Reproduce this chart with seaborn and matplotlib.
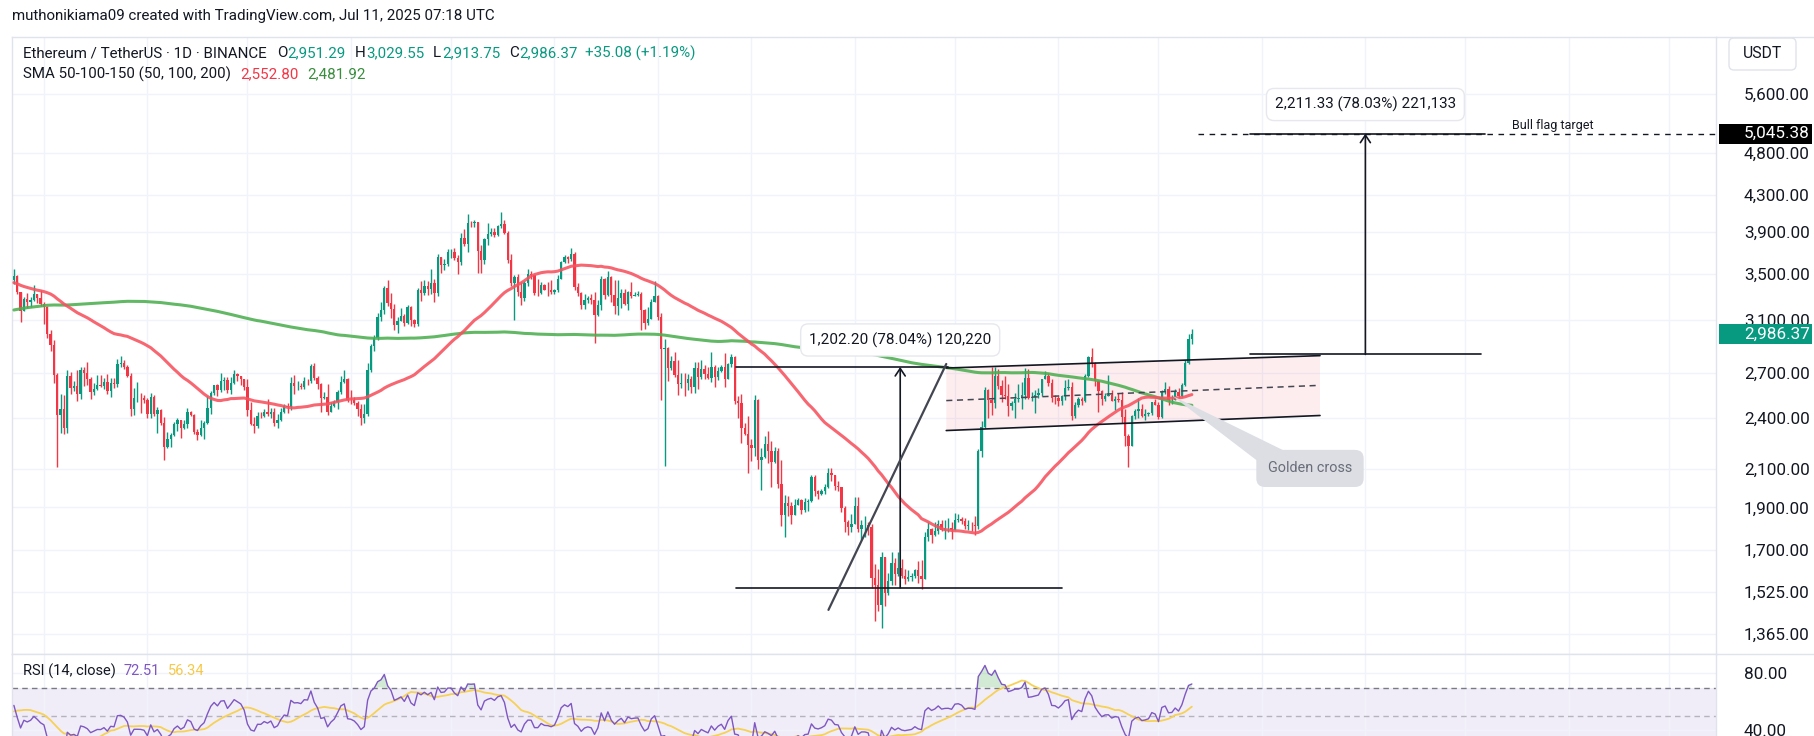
import numpy as np
import pandas as pd
import matplotlib
matplotlib.use("Agg")
import matplotlib.pyplot as plt
import matplotlib.transforms as mtransforms
from matplotlib.patches import Polygon, FancyBboxPatch, Rectangle
from matplotlib.lines import Line2D
from matplotlib.ticker import NullLocator
import seaborn as sns

sns.set_theme(style="white")
plt.rcParams["font.family"] = ["Roboto", "DejaVu Sans"]

# ---------------------------------------------------------------- data
HIST_START = "2024-01-01"   # closes used only to warm up SMA / RSI
START = "2024-07-23"        # first candle shown

hist_close = [
    2352, 2355, 2210, 2268, 2269, 2240, 2222, 2331, 2345, 2585, 2618, 2524, 2576, 2472, 2511, 2587,
    2530, 2468, 2490, 2470, 2455, 2315, 2242, 2236, 2218, 2268, 2267, 2257, 2316, 2343, 2283,
    2304, 2309, 2296, 2290, 2299, 2373, 2424, 2420, 2487, 2501, 2507, 2659, 2640, 2777, 2824, 2803,
    2786, 2880, 2945, 3015, 2969, 2971, 2922, 2993, 3113, 3178, 3242, 3384, 3340,
    3433, 3421, 3488, 3628, 3561, 3818, 3868, 3885, 3915, 3878, 4066, 3980, 4004, 3880, 3734, 3522,
    3644, 3520, 3163, 3514, 3493, 3336, 3453, 3456, 3590, 3588, 3501, 3561, 3508, 3509, 3646,
    3505, 3280, 3310, 3330, 3318, 3393, 3451, 3698, 3505, 3545, 3504, 3242, 3007, 3095, 3099, 3080,
    2985, 3063, 3057, 3158, 3147, 3200, 3218, 3140, 3155, 3130, 3256, 3263, 3215, 3014,
    2970, 2988, 3103, 3117, 3139, 3064, 3006, 2974, 3036, 2910, 2912, 2930, 2951, 2881, 3035, 2945,
    3095, 3121, 3071, 3662, 3790, 3737, 3780, 3727, 3749, 3826, 3892, 3840, 3766, 3748, 3763,
    3814, 3780, 3767, 3811, 3864, 3811, 3680, 3682, 3706, 3666, 3498, 3560, 3468, 3481, 3567, 3621,
    3508, 3481, 3561, 3512, 3518, 3494, 3418, 3354, 3393, 3372, 3449, 3376, 3378, 3433,
    3439, 3419, 3296, 3058, 2980, 3066, 2930, 3016, 3064, 3101, 3101, 3135, 3178, 3244, 3484, 3442,
    3388, 3425, 3505, 3517, 3535, 3440,
]

close = [
    # Jul 2024 (23-31)
    3481, 3337, 3175, 3275, 3249, 3270, 3320, 3280, 3232,
    # Aug
    3204, 2988, 2903, 2687, 2420, 2460, 2341, 2682, 2598, 2610, 2555, 2724, 2703, 2661, 2569, 2592,
    2614, 2612, 2636, 2573, 2631, 2623, 2762, 2768, 2745, 2680, 2458, 2528, 2528, 2526, 2513,
    # Sep
    2425, 2538, 2424, 2450, 2368, 2225, 2272, 2297, 2360, 2389, 2340, 2361, 2440, 2418, 2315, 2294,
    2340, 2370, 2465, 2561, 2615, 2581, 2647, 2653, 2580, 2633, 2696, 2677, 2658, 2603,
    # Oct
    2448, 2366, 2350, 2415, 2414, 2440, 2423, 2441, 2370, 2385, 2437, 2476, 2470, 2629, 2608, 2611,
    2604, 2645, 2643, 2747, 2668, 2623, 2527, 2535, 2437, 2478, 2505, 2566, 2639, 2661, 2519,
    # Nov
    2513, 2495, 2457, 2400, 2423, 2722, 2896, 2962, 3127, 3185, 3370, 3244, 3187, 3058, 3092, 3133,
    3075, 3208, 3104, 3068, 3355, 3327, 3393, 3361, 3416, 3324, 3657, 3580, 3593, 3705,
    # Dec
    3706, 3645, 3611, 3838, 3785, 4000, 3997, 4006, 3713, 3628, 3834, 3881, 3907, 3875, 3960, 3987,
    3894, 3627, 3419, 3473, 3337, 3286, 3419, 3492, 3490, 3331, 3330, 3395, 3357, 3353, 3333,
    # Jan 2025
    3354, 3451, 3605, 3657, 3634, 3687, 3380, 3327, 3221, 3267, 3283, 3266, 3139, 3221, 3451, 3307,
    3472, 3308, 3219, 3281, 3325, 3237, 3337, 3305, 3314, 3317, 3186, 3078, 3109, 3249, 3299,
    # Feb
    3124, 2872, 2880, 2733, 2786, 2687, 2622, 2632, 2627, 2660, 2604, 2737, 2674, 2725, 2692, 2663,
    2742, 2671, 2716, 2739, 2661, 2763, 2818, 2510, 2495, 2337, 2305, 2237,
    # Mar
    2217, 2518, 2151, 2170, 2241, 2200, 2139, 2204, 2021, 1865, 1921, 1907, 1863, 1911, 1937, 1887,
    1927, 1932, 2056, 1983, 1968, 1982, 2004, 2079, 2066, 2009, 2003, 1896, 1828, 1805, 1822,
    # Apr
    1905, 1795, 1817, 1817, 1805, 1580, 1553, 1472, 1669, 1521, 1567, 1645, 1598, 1622, 1588, 1577,
    1583, 1589, 1613, 1587, 1578, 1758, 1796, 1769, 1786, 1819, 1792, 1799, 1800, 1793,
    # May
    1838, 1842, 1833, 1809, 1816, 1815, 1810, 2204, 2345, 2581, 2514, 2497, 2680, 2609, 2546, 2540,
    2474, 2495, 2524, 2526, 2551, 2664, 2527, 2535, 2550, 2563, 2659, 2682, 2632, 2531, 2528,
    # Jun
    2507, 2542, 2594, 2606, 2416, 2481, 2524, 2509, 2680, 2815, 2770, 2643, 2579, 2522, 2545, 2547,
    2508, 2524, 2518, 2405, 2293, 2231, 2410, 2447, 2460, 2416, 2423, 2435, 2501, 2486,
    # Jul 2025 (1-11)
    2405, 2568, 2587, 2515, 2519, 2571, 2541, 2615, 2770, 2951.29, 2986.37,
]

high = [
    3541, 3488, 3340, 3289, 3330, 3290, 3400, 3322, 3350,
    3247, 3217, 3019, 2940, 2700, 2555, 2552, 2720, 2707, 2642, 2720, 2740, 2742, 2781, 2675, 2633,
    2689, 2688, 2665, 2694, 2664, 2665, 2800, 2820, 2792, 2760, 2702, 2594, 2640, 2560, 2550,
    2528, 2560, 2550, 2468, 2460, 2407, 2312, 2310, 2375, 2399, 2384, 2390, 2465, 2445, 2425, 2335,
    2390, 2380, 2545, 2573, 2619, 2625, 2702, 2670, 2672, 2670, 2722, 2702, 2680, 2657,
    2659, 2500, 2405, 2437, 2440, 2460, 2521, 2465, 2466, 2425, 2464, 2490, 2495, 2675, 2684, 2645,
    2630, 2675, 2660, 2765, 2769, 2680, 2630, 2570, 2620, 2500, 2514, 2580, 2682, 2722, 2665,
    2585, 2535, 2510, 2492, 2490, 2770, 2914, 2982, 3160, 3250, 3388, 3440, 3325, 3233, 3127, 3201,
    3151, 3225, 3220, 3110, 3370, 3430, 3440, 3429, 3540, 3455, 3680, 3655, 3635, 3730,
    3730, 3740, 3675, 3889, 3935, 4090, 4015, 4030, 4010, 3770, 3840, 3995, 3940, 3945, 3975, 4107,
    4030, 3910, 3680, 3490, 3495, 3420, 3430, 3540, 3520, 3490, 3450, 3420, 3410, 3425, 3440,
    3362, 3484, 3622, 3674, 3669, 3744, 3700, 3413, 3340, 3322, 3300, 3320, 3335, 3265, 3475, 3460,
    3524, 3480, 3445, 3440, 3359, 3360, 3347, 3425, 3340, 3347, 3340, 3195, 3210, 3275, 3437,
    3311, 3160, 2950, 2890, 2820, 2855, 2795, 2700, 2700, 2696, 2680, 2780, 2780, 2790, 2760, 2740,
    2850, 2760, 2740, 2760, 2845, 2768, 2835, 2820, 2540, 2553, 2367, 2410,
    2272, 2550, 2525, 2220, 2290, 2322, 2260, 2225, 2220, 2150, 1963, 1960, 1925, 1940, 1950, 1940,
    1950, 1945, 2070, 2070, 1990, 1995, 2020, 2105, 2105, 2035, 2036, 2005, 1905, 1840, 1870,
    1955, 1955, 1840, 1860, 1830, 1818, 1640, 1620, 1690, 1669, 1600, 1692, 1665, 1691, 1660, 1620,
    1613, 1600, 1620, 1650, 1658, 1780, 1830, 1800, 1830, 1840, 1840, 1840, 1850, 1830,
    1875, 1870, 1855, 1850, 1839, 1830, 1860, 2215, 2380, 2600, 2590, 2740, 2745, 2725, 2650, 2680,
    2620, 2510, 2560, 2620, 2640, 2734, 2731, 2568, 2580, 2597, 2660, 2714, 2700, 2656, 2548,
    2540, 2550, 2650, 2660, 2640, 2500, 2535, 2538, 2695, 2825, 2880, 2775, 2650, 2580, 2560, 2683,
    2580, 2540, 2560, 2571, 2455, 2300, 2420, 2457, 2530, 2490, 2458, 2440, 2505, 2525,
    2500, 2580, 2637, 2610, 2547, 2588, 2594, 2630, 2795, 2990, 3029.55,
]

low = [
    3410, 3320, 3087, 3171, 3200, 3210, 3260, 3240, 3220,
    3072, 2961, 2860, 2630, 2111, 2310, 2300, 2310, 2553, 2573, 2510, 2521, 2612, 2618, 2525, 2550,
    2582, 2600, 2588, 2557, 2537, 2595, 2603, 2741, 2730, 2670, 2410, 2420, 2500, 2430, 2493,
    2400, 2400, 2410, 2310, 2355, 2150, 2222, 2227, 2290, 2322, 2280, 2330, 2337, 2410, 2300, 2265,
    2290, 2270, 2365, 2425, 2550, 2540, 2572, 2580, 2560, 2555, 2620, 2645, 2617, 2580,
    2410, 2355, 2308, 2340, 2400, 2405, 2411, 2400, 2350, 2340, 2380, 2435, 2435, 2448, 2558, 2580,
    2590, 2590, 2615, 2629, 2652, 2590, 2440, 2520, 2421, 2438, 2470, 2457, 2554, 2630, 2500,
    2490, 2480, 2410, 2356, 2370, 2410, 2705, 2862, 2945, 3095, 3150, 3220, 3120, 3020, 3000, 3100,
    3050, 3065, 3050, 3045, 3050, 3257, 3310, 3310, 3320, 3250, 3300, 3510, 3530, 3570,
    3646, 3625, 3494, 3580, 3760, 3700, 3958, 3955, 3510, 3505, 3590, 3775, 3860, 3850, 3860, 3938,
    3880, 3600, 3385, 3100, 3300, 3225, 3255, 3390, 3450, 3310, 3300, 3318, 3350, 3305, 3320,
    3320, 3335, 3450, 3600, 3600, 3615, 3355, 3305, 3190, 3190, 3240, 3230, 2920, 3135, 3185, 3275,
    3300, 3247, 3150, 3140, 3202, 3227, 3180, 3282, 3300, 3305, 3020, 3030, 3060, 3110, 3261,
    3100, 2515, 2120, 2645, 2720, 2670, 2550, 2593, 2540, 2580, 2560, 2565, 2590, 2661, 2660, 2660,
    2640, 2600, 2650, 2705, 2600, 2658, 2745, 2490, 2400, 2250, 2295, 2080,
    2144, 2172, 2100, 1990, 2161, 2132, 2005, 2134, 2000, 1810, 1760, 1860, 1820, 1865, 1910, 1870,
    1880, 1885, 1925, 1960, 1940, 1965, 1970, 2000, 2036, 1990, 1986, 1880, 1782, 1768, 1780,
    1820, 1780, 1745, 1760, 1770, 1540, 1412, 1450, 1385, 1470, 1510, 1550, 1550, 1590, 1580, 1557,
    1568, 1570, 1582, 1560, 1537, 1585, 1740, 1730, 1765, 1775, 1785, 1750, 1780, 1750,
    1790, 1830, 1820, 1795, 1790, 1785, 1770, 1795, 2170, 2340, 2400, 2420, 2465, 2589, 2500, 2520,
    2414, 2450, 2400, 2500, 2460, 2520, 2520, 2510, 2435, 2527, 2540, 2658, 2610, 2500, 2490,
    2478, 2485, 2519, 2585, 2390, 2400, 2470, 2483, 2500, 2672, 2740, 2610, 2440, 2480, 2508, 2540,
    2508, 2450, 2505, 2370, 2230, 2111, 2235, 2395, 2401, 2407, 2390, 2416, 2421, 2483,
    2395, 2400, 2556, 2480, 2492, 2515, 2530, 2536, 2610, 2763, 2913.75,
]

price_ticks = [5600, 4800, 4300, 3900, 3500, 3100, 2700, 2400, 2100, 1900, 1700, 1525, 1365]
rsi_ticks = [80, 40]

# TradingView drawings (time index, price) anchors
measure_low, measure_high = 1540.5, 2742.7
flag_base, flag_target = 2834.05, 5045.38
last_price = 2986.37

# ---------------------------------------------------------------- derived series
n = len(close)
assert len(high) == n and len(low) == n, (n, len(high), len(low))
dates = pd.date_range(START, periods=n, freq="D")
x = np.arange(n)
c = np.array(close, float)
o = np.r_[hist_close[-1], c[:-1]]
h = np.maximum(np.array(high, float), np.maximum(o, c))
lo = np.minimum(np.array(low, float), np.minimum(o, c))

allc = pd.Series(list(hist_close) + list(close), dtype=float)
k = len(hist_close)
sma50 = allc.rolling(50).mean().to_numpy()[k:]
sma200 = allc.rolling(200).mean().to_numpy()[k:]
d = allc.diff()
up = d.clip(lower=0).ewm(alpha=1 / 14, adjust=False).mean()
dn = (-d.clip(upper=0)).ewm(alpha=1 / 14, adjust=False).mean()
rsi_all = 100 - 100 / (1 + up / dn)
rsi = rsi_all.to_numpy()[k:]
rsi_ma = rsi_all.rolling(14).mean().to_numpy()[k:]
df = pd.DataFrame({"x": x, "sma50": sma50, "sma200": sma200, "rsi": rsi, "rsi_ma": rsi_ma})

# ---------------------------------------------------------------- layout
W, H = 1814, 736
L, R, TOP, SEP = 12, 1716, 37, 654
PX0, PXSTEP = 13.9, 3.337
YREF_PX, YREF_P, YSCALE = 93.7, 5600.0, 382.8
p_top = YREF_P * np.exp((YREF_PX - TOP) / YSCALE)
p_bot = YREF_P * np.exp(-(SEP - YREF_PX) / YSCALE)
xlim = ((L - PX0) / PXSTEP, (R - PX0) / PXSTEP)

DARK = "#131722"
GREEN = "#089981"
RED = "#F23645"
GRID = "#f0f3fa"
BORDER = "#e0e3eb"
AXFS = 12.3

fig = plt.figure(figsize=(W / 100, H / 100), dpi=100, facecolor="white")
ax = fig.add_axes([L / W, 1 - SEP / H, (R - L) / W, (SEP - TOP) / H])
axr = fig.add_axes([L / W, 0, (R - L) / W, (H - SEP) / H])

months = pd.date_range("2024-08-01", "2025-12-01", freq="MS")
month_idx = (months - dates[0]).days.to_numpy()

for a in (ax, axr):
    a.set_facecolor("white")
    a.set_xlim(*xlim)
    a.set_xticks(month_idx)
    a.tick_params(axis="x", length=0, labelbottom=False)
    a.grid(True, axis="both", color=GRID, lw=1)
    for s in a.spines.values():
        s.set_color(BORDER)
        s.set_linewidth(1)
    a.yaxis.tick_right()
    a.tick_params(axis="y", length=0, pad=20, labelsize=AXFS, labelcolor=DARK)

ax.set_yscale("log")
ax.set_ylim(p_bot, p_top)
ax.set_yticks(price_ticks)
ax.set_yticklabels([f"{v:,.2f}" for v in price_ticks])
ax.yaxis.set_minor_locator(NullLocator())
axr.spines["bottom"].set_visible(False)

# candles
cols = np.where(c >= o, GREEN, RED)
ax.vlines(x, lo, h, colors=cols, lw=1.0, zorder=3)
ax.bar(x, np.abs(c - o), bottom=np.minimum(o, c), width=0.7, color=cols, lw=0, zorder=3)

# moving averages
sns.lineplot(data=df, x="x", y="sma200", ax=ax, color="#4CAF50", lw=2.2, alpha=0.88,
             estimator=None, legend=False, zorder=4)
sns.lineplot(data=df, x="x", y="sma50", ax=ax, color="#F7525F", lw=2.2, alpha=0.88,
             estimator=None, legend=False, zorder=4)
ax.set_xlabel("")
ax.set_ylabel("")

# --- flag channel
flag_ul, flag_ur = (279.4, 2735), (391.4, 2825)
flag_ll, flag_lr = (279.4, 2323), (391.4, 2416)
ax.add_patch(Polygon([flag_ul, flag_ur, flag_lr, flag_ll], closed=True, fc=RED, alpha=0.085,
                     ec="none", zorder=1))
ax.plot([flag_ul[0], flag_ur[0]], [flag_ul[1], flag_ur[1]], color=DARK, lw=1.2, zorder=5)
ax.plot([flag_ll[0], flag_lr[0]], [flag_ll[1], flag_lr[1]], color=DARK, lw=1.2, zorder=5)
ax.plot([279.4, 391.4], [2512, 2614], color="#434651", lw=1.1, dashes=(4, 3), zorder=5)

# --- flagpole measurement
ax.plot([216.4, 280.0], [measure_high] * 2, color=DARK, lw=1.2, zorder=5)
ax.plot([216.4, 314.0], [measure_low] * 2, color=DARK, lw=1.2, zorder=5)
ax.annotate("", xy=(265.6, measure_high), xytext=(265.6, measure_low),
            arrowprops=dict(arrowstyle="->,head_length=0.45,head_width=0.3", lw=1.2, color=DARK,
                            shrinkA=0, shrinkB=0), zorder=5)
ax.plot([244.1, 279.4], [1454, 2764], color="#434651", lw=1.6, zorder=5)
ax.text(265.6, 2943, "1,202.20 (78.04%) 120,220", ha="center", va="center", fontsize=11,
        color=DARK, zorder=8,
        bbox=dict(boxstyle="round,pad=0.55,rounding_size=0.5", fc="white", ec="#e6e8ee", lw=1))

# --- bull flag target
ax.plot([370.4, 439.6], [flag_base] * 2, color=DARK, lw=1.2, zorder=5)
ax.plot([354.8, xlim[1]], [flag_target] * 2, color=DARK, lw=1.0, dashes=(4, 4), zorder=4)
ax.plot([370.4, 440.8], [flag_target] * 2, color=DARK, lw=1.2, zorder=5)
ax.annotate("", xy=(405.0, flag_target), xytext=(405.0, flag_base),
            arrowprops=dict(arrowstyle="->,head_length=0.45,head_width=0.3", lw=1.2, color=DARK,
                            shrinkA=0, shrinkB=0), zorder=5)
ax.text(405.0, 5444, "2,211.33 (78.03%) 221,133", ha="center", va="center", fontsize=11,
        color=DARK, zorder=8,
        bbox=dict(boxstyle="round,pad=0.55,rounding_size=0.5", fc="white", ec="#e6e8ee", lw=1))
ax.text(448.9, 5160, "Bull flag target", ha="left", va="center", fontsize=9, color=DARK, zorder=8)

# --- golden cross callout
ax.add_patch(Polygon([(347.1, 2544), (381.6, 2195), (373.2, 2138)], closed=True,
                     fc="#dcdee4", ec="none", zorder=6))
ax.text(388.4, 2104, "Golden cross", ha="center", va="center", fontsize=10.4, color="#6a6d78",
        zorder=7, bbox=dict(boxstyle="round,pad=0.8,rounding_size=0.6", fc="#dcdee4", ec="none"))

# ---------------------------------------------------------------- RSI pane
axr.set_ylim(35.4, 93.9)
axr.axhspan(30, 70, color="#7E57C2", alpha=0.1, lw=0, zorder=0)
axr.axhline(70, color="#787b86", lw=1, dashes=(4, 3), zorder=1)
axr.axhline(50, color="#787b86", lw=1, alpha=0.5, dashes=(4, 3), zorder=1)
axr.fill_between(x, 70, rsi, where=rsi > 70, interpolate=True, color="#4CAF50", alpha=0.25,
                 lw=0, zorder=1)
sns.lineplot(data=df, x="x", y="rsi_ma", ax=axr, color="#F6D155", lw=1.3, estimator=None,
             legend=False, zorder=3)
sns.lineplot(data=df, x="x", y="rsi", ax=axr, color="#7E57C2", lw=1.0, estimator=None,
             legend=False, zorder=4)
axr.set_xlabel("")
axr.set_ylabel("")
axr.set_yticks(rsi_ticks)
axr.set_yticklabels([f"{v:.2f}" for v in rsi_ticks])

# ---------------------------------------------------------------- frame pieces
ident = mtransforms.IdentityTransform()
for (x0, y0, x1, y1) in [(R, TOP, W, TOP), (R, SEP, W, SEP)]:
    fig.add_artist(Line2D([x0, x1], [H - y0, H - y1], color=BORDER, lw=1, transform=ident))

fig.canvas.draw()
renderer = fig.canvas.get_renderer()


def price_box(val, label, fc):
    yd = ax.transData.transform((0, val))[1]
    fig.add_artist(Rectangle((1719, yd - 10), 93, 20, fc=fc, ec="none", transform=ident,
                             zorder=10))
    fig.text(1744 / W, yd / H, label, color="white", fontsize=AXFS, va="center", ha="left",
             zorder=11)


price_box(flag_target, "5,045.38", "#000000")
price_box(last_price, "2,986.37", GREEN)

fig.add_artist(FancyBboxPatch((1729, H - 70), 67, 32, boxstyle="round,pad=0,rounding_size=5",
                              fc="white", ec=BORDER, lw=1, transform=ident))
fig.text(1762.5 / W, 1 - 54 / H, "USDT", ha="center", va="center", fontsize=11.3, color=DARK)


def seg_text(x_px, y_px, parts, size):
    xx = x_px
    for s, col, gap in parts:
        t = fig.text(xx / W, 1 - y_px / H, s, color=col, fontsize=size, va="center", ha="left")
        bb = t.get_window_extent(renderer)
        xx = bb.x1 + gap


fig.text(12 / W, 1 - 16 / H, "muthonikiama09 created with TradingView.com, Jul 11, 2025 07:18 UTC",
         fontsize=10.9, color=DARK, va="center", ha="left")
seg_text(23, 53, [("Ethereum / TetherUS · 1D · BINANCE", DARK, 10), ("O", DARK, 0.5),
                  ("2,951.29", GREEN, 9), ("H", DARK, 0.5), ("3,029.55", GREEN, 9),
                  ("L", DARK, 0.5), ("2,913.75", GREEN, 9), ("C", DARK, 0.5),
                  ("2,986.37", GREEN, 7), ("+35.08 (+1.19%)", GREEN, 0)], 10.9)
seg_text(23, 74, [("SMA 50-100-150 (50, 100, 200)", DARK, 9), ("2,552.80", RED, 9),
                  ("2,481.92", "#388E3C", 0)], 10.9)
seg_text(23, 671, [("RSI (14, close)", DARK, 8), ("72.51", "#7E57C2", 8),
                   ("56.34", "#F6C94A", 0)], 10.5)

fig.savefig("out.png", dpi=100, facecolor="white")
